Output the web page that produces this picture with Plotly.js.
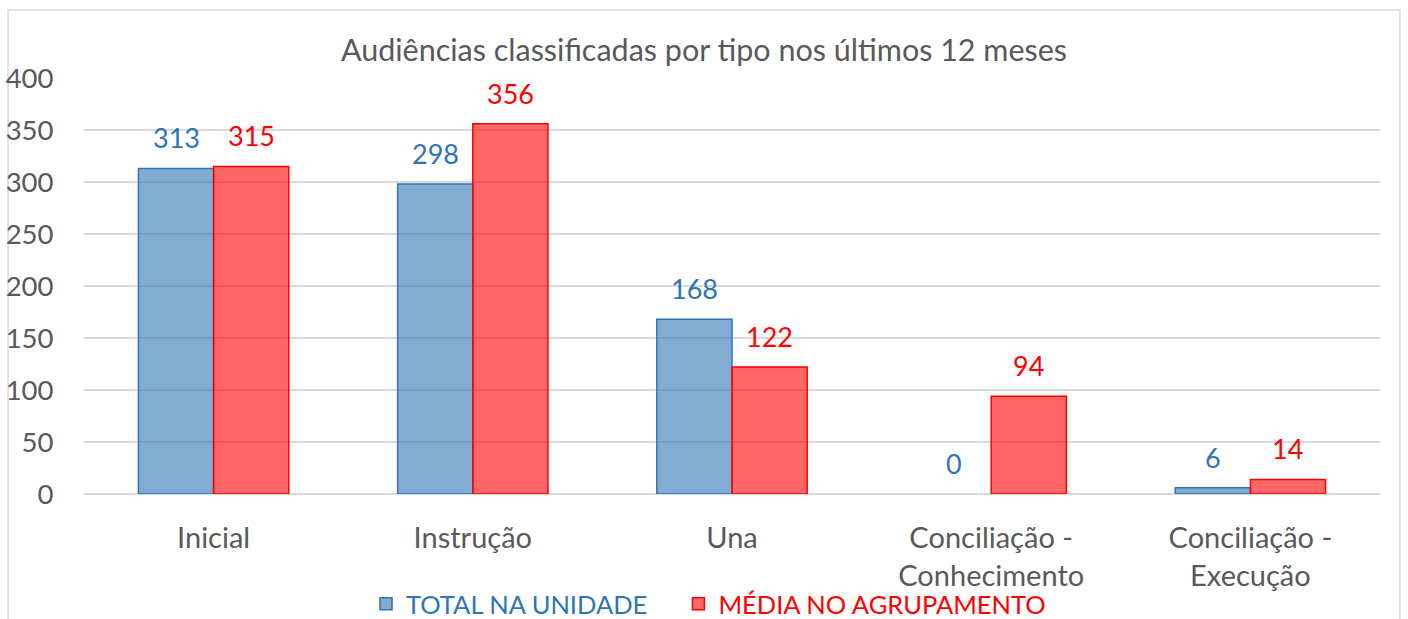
<!DOCTYPE html>
<html>
<head>
<meta charset="utf-8">
<script src="https://cdn.plot.ly/plotly-3.0.1.min.js"></script>
<style>html,body{margin:0;padding:0;background:#fff;}#chart{width:1408px;height:619px;}</style>
</head>
<body>
<div id="chart"></div>
<script>
const categories = ["Inicial", "Instrução", "Una", "Conciliação -<br>Conhecimento", "Conciliação -<br>Execução"];
const totalUnidade = [313, 298, 168, 0, 6];
const mediaAgrupamento = [315, 356, 122, 94, 14];
const seriesNames = ["TOTAL NA UNIDADE", "MÉDIA NO AGRUPAMENTO"];
const yTicks = [0, 50, 100, 150, 200, 250, 300, 350, 400];

const blue = "#2E75B6", blueFill = "rgba(46,117,182,0.6)";
const red = "#FF0000", redFill = "rgba(255,0,0,0.6)";
const FONT = "Lato, 'Open Sans', sans-serif";
const gray = "#595959";
const PAD = "\u00a0".repeat(4);

const traces = [
  {type: "bar", x: categories, y: totalUnidade,
   name: '<span style="color:' + blue + '">' + seriesNames[0] + PAD + '</span>',
   marker: {color: blueFill, line: {color: blue, width: totalUnidade.map(v => v === 0 ? 0 : 1.5)}}, hoverinfo: "y"},
  {type: "bar", x: categories, y: mediaAgrupamento,
   name: '<span style="color:' + red + '">' + seriesNames[1] + '</span>',
   marker: {color: redFill, line: {color: red, width: mediaAgrupamento.map(v => v === 0 ? 0 : 1.5)}}, hoverinfo: "y"}
];

const bargap = 0.42;
const half = (1 - bargap) / 4;
const annotations = [];
categories.forEach((c, i) => {
  annotations.push({x: i - half, y: totalUnidade[i], xref: "x", yref: "y", text: String(totalUnidade[i]),
    showarrow: false, yanchor: "bottom", yshift: 12, font: {family: FONT, size: 27, color: blue}});
  annotations.push({x: i + half, y: mediaAgrupamento[i], xref: "x", yref: "y", text: String(mediaAgrupamento[i]),
    showarrow: false, yanchor: "bottom", yshift: 12, font: {family: FONT, size: 27, color: red}});
});

const layout = {
  width: 1408, height: 619,
  margin: {l: 84, r: 28, t: 78, b: 125},
  paper_bgcolor: "#fff", plot_bgcolor: "#fff",
  font: {family: FONT, size: 28, color: gray},
  title: {text: "Audiências classificadas por tipo nos últimos 12 meses",
    font: {family: FONT, size: 30.5, color: gray}, x: 0.5, xanchor: "center", y: 0.918, yanchor: "middle"},
  barmode: "group", bargap: bargap, bargroupgap: 0,
  xaxis: {type: "category", automargin: false, showgrid: false, zeroline: false, showline: false,
    ticks: "outside", ticklen: 18, tickcolor: "rgba(0,0,0,0)",
    tickfont: {family: FONT, size: 29, color: gray}},
  yaxis: {range: [0, 400], automargin: false, tickvals: yTicks, showgrid: true, gridcolor: "#D9D9D9", gridwidth: 1.5,
    zeroline: true, zerolinecolor: "#D9D9D9", zerolinewidth: 1.5, showline: false,
    ticks: "outside", ticklen: 24, tickcolor: "rgba(0,0,0,0)",
    tickfont: {family: FONT, size: 27.5, color: gray}},
  showlegend: true,
  legend: {orientation: "h", xref: "paper", x: 0.2176, xanchor: "left", yref: "container", y: 0.062, yanchor: "top",
    bgcolor: "rgba(0,0,0,0)",
    font: {family: FONT, size: 25.5}, itemwidth: 30, traceorder: "normal"},
  annotations: annotations,
  shapes: [{type: "rect", xref: "paper", yref: "paper", x0: -0.0586, x1: 1.0154, y0: -0.4, y1: 1.1635,
    line: {color: "#D9D9D9", width: 1.5}, fillcolor: "rgba(0,0,0,0)", layer: "below"}]
};

Plotly.newPlot("chart", traces, layout, {displayModeBar: false, staticPlot: true});
</script>
</body>
</html>
